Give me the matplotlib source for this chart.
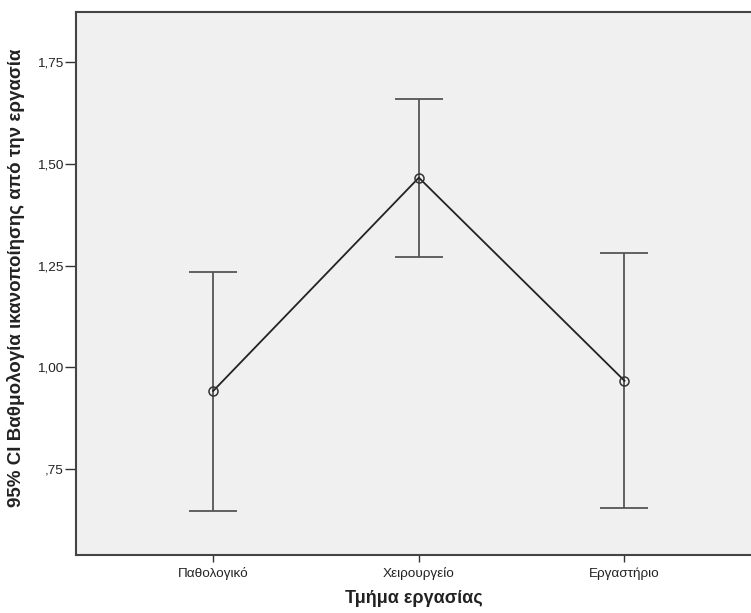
import matplotlib
matplotlib.use("Agg")
import matplotlib.pyplot as plt
import numpy as np

plt.rcParams['font.family'] = ['Liberation Sans', 'DejaVu Sans']

categories = ["Παθολογικό", "Χειρουργείο", "Εργαστήριο"]
means = [0.942, 1.466, 0.967]
ci_lower = [0.647, 1.271, 0.654]
ci_upper = [1.235, 1.659, 1.281]
yticks = [0.75, 1.00, 1.25, 1.50, 1.75]
ytick_labels = [",75", "1,00", "1,25", "1,50", "1,75"]

W, H = 751, 613
fig = plt.figure(figsize=(W / 100, H / 100), dpi=100)
left, right, top, bottom = 76, 752, 12, 555
ax = fig.add_axes([left / W, 1 - bottom / H, (right - left) / W, (bottom - top) / H])
ax.set_facecolor("#F0F0F0")

x = np.arange(len(categories))
means_a = np.array(means)
yerr = np.vstack([means_a - np.array(ci_lower), np.array(ci_upper) - means_a])

ax.errorbar(x, means, yerr=yerr, fmt='none', ecolor="#555555", elinewidth=1.3,
            capsize=17, capthick=1.3, zorder=2)
ax.plot(x, means, color="#222222", lw=1.3, zorder=3)
ax.plot(x, means, 'o', ms=6.5, mfc='none', mec="#333333", mew=1.1, zorder=4)

ax.set_xlim(-0.667, 2.62)
ax.set_ylim(0.539, 1.873)
ax.set_yticks(yticks)
ax.set_yticklabels(ytick_labels, fontsize=9.7, color="#222222")
ax.set_xticks(x)
ax.set_xticklabels(categories, fontsize=9.7, color="#222222")
ax.tick_params(axis='y', length=8, width=1, color="#333333", pad=1)
ax.tick_params(axis='x', length=5, width=1, color="#333333", pad=4)

for s in ['left', 'top', 'bottom']:
    ax.spines[s].set_color("#444444")
    ax.spines[s].set_linewidth(1.5)
ax.spines['right'].set_visible(False)

ax.set_ylabel("95% CI Βαθμολογία ικανοποίησης από την εργασία", fontsize=13.5,
              fontweight='bold', color="#222222")
ax.yaxis.set_label_coords(-0.076, 0.51)
ax.set_xlabel("Τμήμα εργασίας", fontsize=13, fontweight='bold', color="#222222",
              labelpad=7)

fig.savefig("out.png", dpi=100, facecolor="white")
